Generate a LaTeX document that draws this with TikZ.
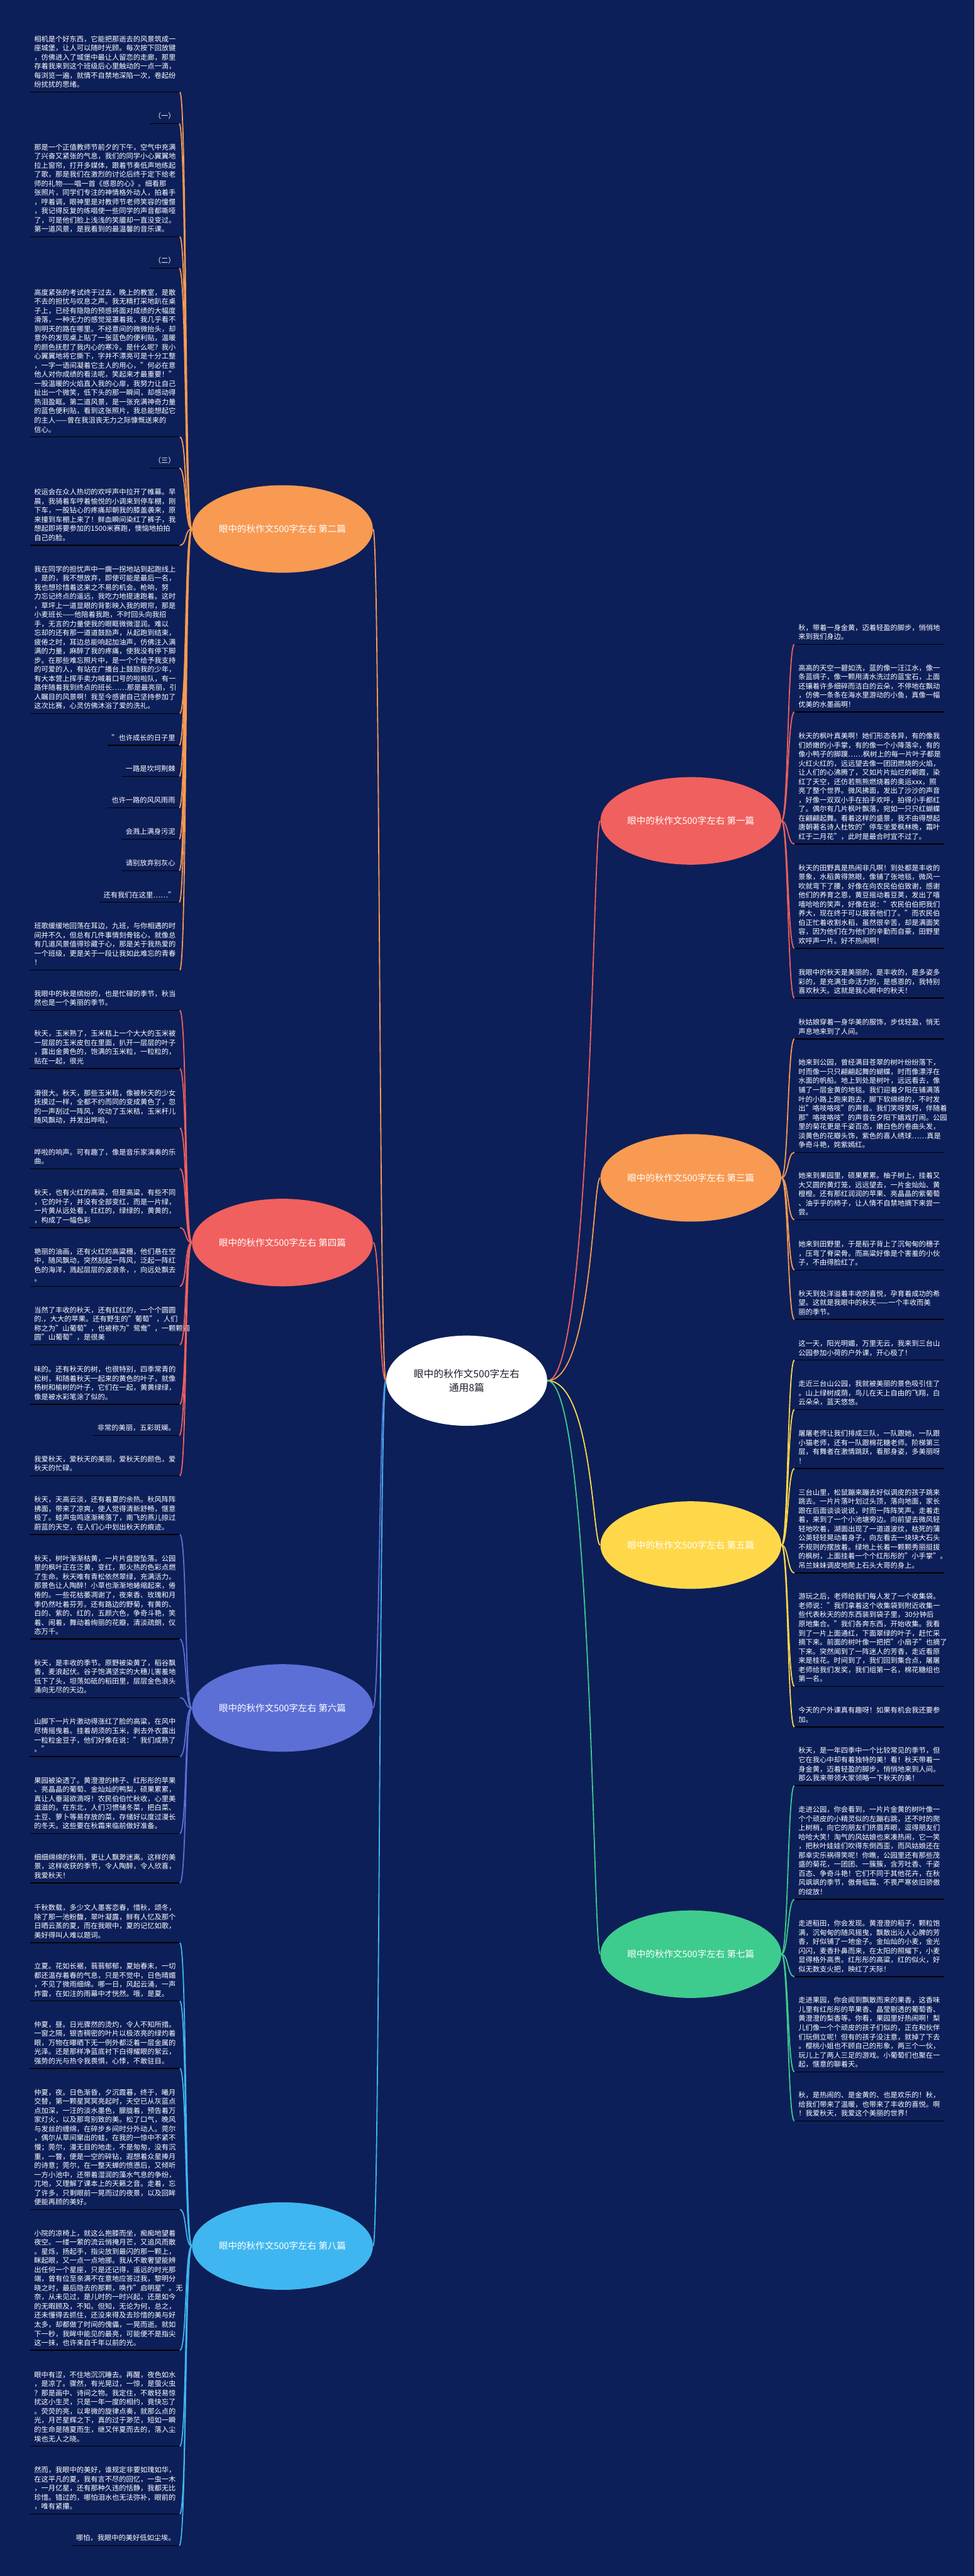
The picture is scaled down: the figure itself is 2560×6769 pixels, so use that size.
\documentclass[tikz,border=0pt]{standalone}
\usepackage{fontspec}
\setmainfont{Noto Sans CJK SC}
\usetikzlibrary{shapes.geometric}
\definecolor{bg}{HTML}{0D1F58}
\definecolor{cOrange}{HTML}{F89A52}
\definecolor{cRed}{HTML}{F0605E}
\definecolor{cBlue}{HTML}{5C6FD6}
\definecolor{cSky}{HTML}{3FB6F0}
\definecolor{cYellow}{HTML}{FFD84A}
\definecolor{cGreen}{HTML}{3ECB8E}
\definecolor{hubtext}{HTML}{1C1C2C}
\newcommand\leaffont{\fontsize{5.58pt}{7.2pt}\selectfont}
\newcommand\lstrut{\rule[-1.2pt]{0pt}{1pt}}
\begin{document}
\begin{tikzpicture}[x=0.3pt,y=-0.3pt,
  leafl/.style={anchor=south west,text width=111.6pt,align=left,inner xsep=3pt,inner ysep=2.4pt,font=\leaffont,text=white,execute at end node=\lstrut},
  leafs/.style={anchor=south east,align=right,inner xsep=3pt,inner ysep=2.4pt,font=\leaffont,text=white,execute at end node=\lstrut},
  branch/.style={ellipse,minimum width=142.5pt,minimum height=69pt,inner sep=0pt,text=white,font=\fontsize{7.2pt}{8.6pt}\selectfont},
  hubnode/.style={ellipse,fill=white,minimum width=126.9pt,minimum height=71.1pt,inner sep=0pt,text=hubtext,align=center,font=\fontsize{7.8pt}{11pt}\selectfont},
  conn/.style={line width=0.9pt},
  uline/.style={line width=0.75pt,black}]
\fill[bg] (0,0) rectangle (2560,6769);
\useasboundingbox (0,0) rectangle (2560,6769);

% hub and branches
\node[hubnode] (C) at (1226,3628) {眼中的秋作文500字左右\\通用8篇};
\node[branch,fill=cRed] (N1) at (1815,2157) {眼中的秋作文500字左右 第一篇};
\node[branch,fill=cOrange] (N2) at (742,1390) {眼中的秋作文500字左右 第二篇};
\node[branch,fill=cOrange] (N3) at (1815,3095) {眼中的秋作文500字左右 第三篇};
\node[branch,fill=cRed] (N4) at (742,3265) {眼中的秋作文500字左右 第四篇};
\node[branch,fill=cYellow] (N5) at (1815,4060) {眼中的秋作文500字左右 第五篇};
\node[branch,fill=cBlue] (N6) at (742,4488) {眼中的秋作文500字左右 第六篇};
\node[branch,fill=cGreen] (N7) at (1815,5135) {眼中的秋作文500字左右 第七篇};
\node[branch,fill=cSky] (N8) at (742,5902) {眼中的秋作文500字左右 第八篇};

% ---------- left: 第二篇 ----------
\node[leafl] (A1) at (79,242) {相机是个好东西，它能把那逝去的风景筑成一\\座城堡，让人可以随时光顾。每次按下回放键\\，仿佛进入了城堡中最让人留恋的走廊，那里\\存着我来到这个班级后心里触动的一点一滴，\\每浏览一遍，就情不自禁地深陷一次，卷起纷\\纷扰扰的思绪。};
\node[leafs] (A2) at (471,325) {（一）};
\node[leafl] (A3) at (79,622) {那是一个正值教师节前夕的下午，空气中充满\\了兴奋又紧张的气息，我们的同学小心翼翼地\\拉上窗帘，打开多媒体，跟着节奏低声地练起\\了歌，那是我们在激烈的讨论后终于定下给老\\师的礼物——唱一首《感恩的心》。细看那\\张照片，同学们专注的神情格外动人，拍着手\\，哼着调，眼神里是对教师节老师笑容的憧憬\\，我记得反复的练唱使一些同学的声音都嘶哑\\了，可是他们脸上浅浅的笑靥却一直没变过。\\第一道风景，是我看到的最温馨的音乐课。};
\node[leafs] (A4) at (471,705) {（二）};
\node[leafl] (A5) at (79,1148) {高度紧张的考试终于过去，晚上的教室，是散\\不去的担忧与叹息之声。我无精打采地趴在桌\\子上，已经有隐隐的预感将面对成绩的大幅度\\滑落，一种无力的感觉笼罩着我，我几乎看不\\到明天的路在哪里。不经意间的微微抬头，却\\意外的发现桌上贴了一张蓝色的便利贴，温暖\\的颜色抚慰了我内心的寒冷。是什么呢？我小\\心翼翼地将它撕下，字并不漂亮可是十分工整\\，一字一语间凝着它主人的用心，"何必在意\\他人对你成绩的看法呢，笑起来才最重要！"\\一股温暖的火焰直入我的心扉，我努力让自己\\扯出一个微笑，低下头的那一瞬间，却感动得\\热泪盈眶。第二道风景，是一张充满神奇力量\\的蓝色便利贴，看到这张照片，我总能想起它\\的主人——曾在我沮丧无力之际慷慨送来的\\信心。};
\node[leafs] (A6) at (471,1230) {（三）};
\node[leafl] (A7) at (79,1433) {校运会在众人热切的欢呼声中拉开了帷幕。早\\晨，我骑着车哼着愉悦的小调来到停车棚，刚\\下车，一股钻心的疼痛却朝我的膝盖袭来，原\\来撞到车棚上来了！鲜血瞬间染红了裤子，我\\想起即将要参加的1500米赛跑，懊恼地拍拍\\自己的脸。};
\node[leafl] (A8) at (79,1875) {我在同学的担忧声中一瘸一拐地站到起跑线上\\，是的，我不想放弃，即使可能是最后一名，\\我也想珍惜着这来之不易的机会。枪响，努\\力忘记终点的遥远，我吃力地提速跑着。这时\\，草坪上一道显眼的背影映入我的眼帘，那是\\小麦班长——他陪着我跑，不时回头向我招\\手，无言的力量使我的眼眶微微湿润。难以\\忘却的还有那一道道鼓励声，从起跑到结束，\\疲倦之时，耳边总能响起加油声，仿佛注入满\\满的力量，麻醉了我的疼痛，使我没有停下脚\\步。在那些难忘照片中，是一个个给予我支持\\的可爱的人，有站在广播台上鼓励我的少年，\\有大本营上挥手卖力喊着口号的啦啦队，有一\\路伴随着我到终点的班长……那是最亮丽，引\\人瞩目的风景啊！我至今感谢自己坚持参加了\\这次比赛，心灵仿佛沐浴了爱的洗礼。};
\node[leafs] (A9) at (471,1958) {"也许成长的日子里};
\node[leafs] (A10) at (471,2040) {一路是坎坷荆棘};
\node[leafs] (A11) at (471,2123) {也许一路的风风雨雨};
\node[leafs] (A12) at (471,2205) {会溅上满身污泥};
\node[leafs] (A13) at (471,2288) {请别放弃别灰心};
\node[leafs] (A14) at (471,2371) {还有我们在这里……"};
\node[leafl] (A15) at (79,2549) {班歌缓缓地回荡在耳边，九班，与你相遇的时\\间并不久，但总有几件事情刻骨铭心，就像总\\有几道风景值得珍藏于心，那是关于我热爱的\\一个班级，更是关于一段让我如此难忘的青春\\！};

% ---------- left: 第四篇 ----------
\node[leafl] (B1) at (79,2655) {我眼中的秋是缤纷的，也是忙碌的季节，秋当\\然也是一个美丽的季节。};
\node[leafl] (B2) at (79,2808) {秋天，玉米熟了，玉米秸上一个大大的玉米被\\一层层的玉米皮包在里面，扒开一层层的叶子\\，露出金黄色的，饱满的玉米粒，一粒粒的，\\贴在一起，很光};
\node[leafl] (B3) at (79,2964) {滑很大。秋天，那些玉米秸，像被秋天的少女\\抚摸过一样，全都不约而同的变成黄色了，忽\\的一声刮过一阵风，吹动了玉米秸，玉米杆儿\\随风飘动，并发出哗啦，};
\node[leafl] (B4) at (79,3071) {哗啦的响声。可有趣了，像是音乐家演奏的乐\\曲。};
\node[leafl] (B5) at (79,3226) {秋天，也有火红的高粱，但是高粱，有些不同\\，它的叶子，并没有全部变红，而是一片绿，\\一片黄从远处看，红红的，绿绿的，黄黄的，\\，构成了一幅色彩};
\node[leafl] (B6) at (79,3380) {艳丽的油画，还有火红的高粱穗，他们悬在空\\中，随风飘动，突然刮起一阵风，泛起一阵红\\色的海洋，溅起层层的波浪条，，向远处飘去\\。};
\node[leafl] (B7) at (79,3534) {当然了丰收的秋天，还有红红的，一个个圆圆\\的.，大大的苹果。还有野生的"葡萄"，人们\\称之为"山葡萄"，也被称为"鸳鸯"，一颗颗圆\\圆"山葡萄"，是很美};
\node[leafl] (B8) at (79,3690) {味的。还有秋天的树，也很特别，四季常青的\\松树，和随着秋天一起来的黄色的叶子，就像\\杨树和榆树的叶子，它们在一起，黄黄绿绿，\\像是被水彩笔涂了似的。};
\node[leafs] (B9) at (471,3772) {非常的美丽，五彩斑斓。};
\node[leafl] (B10) at (79,3878) {我爱秋天，爱秋天的美丽，爱秋天的颜色，爱\\秋天的忙碌。};

% ---------- left: 第六篇 ----------
\node[leafl] (C1) at (79,4032) {秋天，天高云淡，还有着夏的余热。秋风阵阵\\拂面，带来了凉爽，使人觉得清新舒畅，惬意\\极了。蛙声虫鸣逐渐稀落了，南飞的燕儿掠过\\蔚蓝的天空，在人们心中划出秋天的痕迹。};
\node[leafl] (C2) at (79,4307) {秋天，树叶渐渐枯黄，一片片盘旋坠落。公园\\里的枫叶正在泛黄，变红，那火热的色彩点燃\\了生命。秋天唯有青松依然翠绿，充满活力。\\那景色让人陶醉！小草也渐渐地蜷缩起来，倦\\倦的。一些花枯萎凋谢了，夜来香、玫瑰和月\\季仍然吐着芬芳。还有路边的野菊，有黄的、\\白的、紫的、红的，五颜六色，争奇斗艳，笑\\着、闹着，舞动着绚丽的花瓣，清淡疏朗，仪\\态万千。};
\node[leafl] (C3) at (79,4461) {秋天，是丰收的季节。原野被染黄了，稻谷飘\\香，麦浪起伏。谷子饱满坚实的大穗儿害羞地\\低下了头，坦荡如砥的稻田里，层层金色浪头\\涌向无尽的天边。};
\node[leafl] (C4) at (79,4616) {山脚下一片片激动得涨红了脸的高粱，在风中\\尽情摇曳着。挂着胡须的玉米，剥去外衣露出\\一粒粒金豆子，他们好像在说："我们成熟了\\。"};
\node[leafl] (C5) at (79,4818) {果园被染透了。黄澄澄的柿子、红彤彤的苹果\\、亮晶晶的葡萄、金灿灿的鸭梨，硕果累累，\\真让人垂涎欲滴呀！农民伯伯忙秋收，心里美\\滋滋的。在东北，人们习惯储冬菜，把白菜、\\土豆、萝卜等易存放的菜，存储好以度过漫长\\的冬天。这些要在秋霜来临前做好准备。};
\node[leafl] (C6) at (79,4948) {细细绵绵的秋雨，更让人飘渺迷离。这样的美\\景，这样收获的季节，令人陶醉，令人欣喜，\\我爱秋天！};

% ---------- left: 第八篇 ----------
\node[leafl] (D1) at (79,5105) {千秋数载，多少文人墨客恋春，惜秋，颂冬，\\除了那一池粉馥，翠叶凝露，鲜有人忆及那个\\日晒云蒸的夏，而在我眼中，夏的记忆如歌，\\美好得叫人难以题词。};
\node[leafl] (D2) at (79,5258) {立夏。花如长裾，蓊蓊郁郁，夏始春末，一切\\都还温存着春的气息，只是不觉中，日色晴媚\\，不见了微雨细绵。哪一日，风起云涌，一声\\炸雷，在如注的雨幕中才恍然。哦，是夏。};
\node[leafl] (D3) at (79,5435) {仲夏，昼。日光骤然的烫灼，令人不知所措。\\一窗之隔，银杏稠密的叶片以极浓亮的绿灼着\\眼，万物在曝晒下无一例外都泛着一层金属的\\光泽。还是那样净蓝底衬下白得耀眼的絮云，\\强势的光与热令我畏惧，心悸，不敢驻目。};
\node[leafl] (D4) at (79,5806) {仲夏，夜。日色渐昏，夕沉霞暮，终于，曦月\\交替，第一颗星冥冥亮起时，天空已从灰蓝点\\点加深，一汪的淡水墨色，朦胧着，预告着万\\家灯火，以及那弯别致的美。松了口气，晚风\\与发丝的缠绵，在碎步乡间时分外动人。莞尔\\，偶尔从草间窜出的蛙，在我的一惊中不紧不\\慢；莞尔，漫无目的地走，不是匆匆，没有沉\\重，一瞥，便是一空的碎钻，遐想着众星捧月\\的诗意；莞尔，在一整天蝉的愤懑后，又倾听\\一方小池中，还带着湿润的藻水气息的争纷，\\兀地，又理解了课本上的天籁之音。走着，忘\\了许多，只剩眼前一晃而过的夜景，以及回眸\\便能再顾的美好。};
\node[leafl] (D5) at (79,6176) {小院的凉椅上，就这么抱膝而坐，痴痴地望着\\夜空。一缕一萦的流云悄掩月芒，又追风而散\\。星烁，扬起手，指尖放到最闪的那一颗上，\\眯起眼，又一点一点地挪。我从不敢奢望能辨\\出任何一个星座，只是还记得，遥远的时光那\\端，曾有位至亲满不在意地应答过我，黎明分\\晓之时，最后隐去的那颗，唤作"启明星"。无\\奈，从未见过，是儿时的一时兴起，还是如今\\的无暇顾及，不知。但知，无论为何，总之，\\还未懂得去抓住，还没来得及去珍惜的美与好\\太多，却都做了时间的傀儡，一晃而逝。就如\\下一秒，我眸中能见的最亮，可能便不是指尖\\这一抹，也许来自千年以前的光。};
\node[leafl] (D6) at (79,6428) {眼中有涩，不住地沉沉睡去。再醒，夜色如水\\，是凉了。骤然，有光晃过，一惊，是萤火虫\\？那是画中、诗间之物。我定住，不敢轻易惊\\扰这小生灵，只是一年一度的相约，竟快忘了\\。荧荧的亮，以卑微的旋律点奏，就那么点的\\光，月芒星辉之下，真的过于渺茫，短如一瞬\\的生命是随夏而生，继又伴夏而去的，落入尘\\埃也无人之晓。};
\node[leafl] (D7) at (79,6606) {然而，我眼中的美好，谁规定非要如瑰如华，\\在这平凡的夏，我有言不尽的回忆，一虫一木\\，一月亿星，还有那种久违的恬静，我都无比\\珍惜。错过的，哪怕泪水也无法弥补，眼前的\\，唯有紧攥。};
\node[leafs] (D8) at (471,6689) {哪怕，我眼中的美好低如尘埃。};

% ---------- right: 第一篇 ----------
\node[leafl] (E1) at (2087,1693) {秋，带着一身金黄，迈着轻盈的脚步，悄悄地\\来到我们身边。};
\node[leafl] (E2) at (2087,1871) {高高的天空一碧如洗，蓝的像一汪江水，像一\\条蓝绸子，像一颗用清水洗过的蓝宝石，上面\\还镶着许多细碎而洁白的云朵，不停地在飘动\\，仿佛一条条在海水里游动的小鱼，真像一幅\\优美的水墨画啊！};
\node[leafl] (E3) at (2087,2218) {秋天的枫叶真美啊！她们形态各异，有的像我\\们娇嫩的小手掌，有的像一个小降落伞，有的\\像小鸭子的脚蹼……枫树上的每一片叶子都是\\火红火红的，远远望去像一团团燃烧的火焰，\\让人们的心沸腾了，又如片片灿烂的朝霞，染\\红了天空，还仿若熊熊燃烧着的奥运xxx，照\\亮了整个世界。微风拂面，发出了沙沙的声音\\，好像一双双小手在拍手欢呼，拍得小手都红\\了。偶尔有几片枫叶飘落，宛如一只只红蝴蝶\\在翩翩起舞。看着这样的盛景，我不由得想起\\唐朝著名诗人杜牧的"停车坐爱枫林晚，霜叶\\红于二月花"，此时是最合时宜不过了。};
\node[leafl] (E4) at (2087,2492) {秋天的田野真是热闹非凡啊！到处都是丰收的\\景象，水稻黄得煞眼，像铺了张地毯，微风一\\吹就弯下了腰，好像在向农民伯伯致谢，感谢\\他们的养育之恩，黄豆摇动着豆荚，发出了嘻\\嘻哈哈的笑声，好像在说："农民伯伯把我们\\养大，现在终于可以报答他们了。"而农民伯\\伯正忙着收割水稻，虽然很辛苦，却是满面笑\\容，因为他们在为他们的辛勤而自豪，田野里\\欢呼声一片。好不热闹啊！};
\node[leafl] (E5) at (2087,2623) {我眼中的秋天是美丽的，是丰收的，是多姿多\\彩的，是充满生命活力的，是感恩的，我特别\\喜欢秋天。这就是我心眼中的秋天！};

% ---------- right: 第三篇 ----------
\node[leafl] (F1) at (2087,2730) {秋姑娘穿着一身华美的服饰，步伐轻盈，悄无\\声息地来到了人间。};
\node[leafl] (F2) at (2087,3028) {她来到公园，曾经满目苍翠的树叶纷纷落下，\\时而像一只只翩翩起舞的蝴蝶，时而像漂浮在\\水面的帆船。地上到处是树叶，远远看去，像\\铺了一层金黄的地毯。我们迎着夕阳在铺满落\\叶的小路上跑来跑去，脚下软绵绵的，不时发\\出"咯吱咯吱"的声音。我们笑呀笑呀，伴随着\\那"咯吱咯吱"的声音在夕阳下嬉戏打闹。公园\\里的菊花更是千姿百态，嫩白色的卷曲头发，\\淡黄色的花瓣头饰，紫色的喜人绣球……真是\\争奇斗艳，姹紫嫣红。};
\node[leafl] (F3) at (2087,3205) {她来到果园里，硕果累累。柚子树上，挂着又\\大又圆的黄灯笼，远远望去，一片金灿灿、黄\\橙橙。还有那红润润的苹果、亮晶晶的紫葡萄\\、油乎乎的柿子，让人情不自禁地摘下来尝一\\尝。};
\node[leafl] (F4) at (2087,3337) {她来到田野里，于是稻子背上了沉甸甸的穗子\\，压弯了脊梁骨。而高粱好像是个害羞的小伙\\子，不由得脸红了。};
\node[leafl] (F5) at (2087,3467) {秋天到处洋溢着丰收的喜悦，孕育着成功的希\\望。这就是我眼中的秋天——一个丰收而美\\丽的季节。};

% ---------- right: 第五篇 ----------
\node[leafl] (G1) at (2087,3574) {这一天，阳光明媚，万里无云，我来到三台山\\公园参加小荷的户外课，开心极了！};
\node[leafl] (G2) at (2087,3704) {走近三台山公园，我就被美丽的景色吸引住了\\。山上绿树成荫，鸟儿在天上自由的飞翔，白\\云朵朵，蓝天悠悠。};
\node[leafl] (G3) at (2087,3859) {屠屠老师让我们排成三队，一队跟她，一队跟\\小猫老师，还有一队跟棉花糖老师。阶梯第三\\层，有舞者在激情跳跃，看那身姿，多美丽呀\\！};
\node[leafl] (G4) at (2087,4133) {三台山里，松鼠蹦来蹦去好似调皮的孩子跳来\\跳去。一片片落叶划过头顶，落向地面，家长\\跟在后面谈谈说说，时而一阵阵笑声。走着走\\着，来到了一个小池塘旁边。向前望去微风轻\\轻地吹着，湖面出现了一道道波纹，枯死的蒲\\公英轻轻晃动着身子，向左看去一块块大石头\\不规则的摆放着。绿地上长着一颗颗秀丽挺拔\\的枫树，上面挂着一个个红彤彤的"小手掌"。\\吊兰妹妹调皮地爬上石头大哥的身上。};
\node[leafl] (G5) at (2087,4431) {游玩之后，老师给我们每人发了一个收集袋。\\老师说："我们拿着这个收集袋到附近收集一\\些代表秋天的的东西装到袋子里，30分钟后\\原地集合。"我们各奔东西，开始收集。我看\\到了一片上面通红，下面翠绿的叶子，赶忙采\\摘下来。前面的树叶像一把把"小扇子"也摘了\\下来。突然闻到了一阵迷人的芳香，走近看原\\来是桂花。时间到了，我们回到集合点，屠屠\\老师给我们发奖，我们组第一名，棉花糖组也\\第一名。};
\node[leafl] (G6) at (2087,4538) {今天的户外课真有趣呀！如果有机会我还要参\\加。};

% ---------- right: 第七篇 ----------
\node[leafl] (H1) at (2087,4692) {秋天，是一年四季中一个比较常见的季节，但\\它在我心中却有着独特的美！看！秋天带着一\\身金黄，迈着轻盈的脚步，悄悄地来到人间。\\那么我来带领大家领略一下秋天的美！};
\node[leafl] (H2) at (2087,4991) {走进公园，你会看到，一片片金黄的树叶像一\\个个顽皮的小精灵似的左蹦右跳，还不时的爬\\上树梢，向它的朋友们挤眉弄眼，逗得朋友们\\哈哈大笑！淘气的风姑娘也来凑热闹，它一笑\\，把秋叶娃娃们吹得东倒西歪，而风姑娘还在\\那幸灾乐祸得笑呢！你瞧，公园里还有那些茂\\盛的菊花，一团团、一簇簇，含芳吐香、千姿\\百态、争奇斗艳！它们不同于其他花卉，在秋\\风飒飒的季节，傲骨临霜、不畏严寒依旧骄傲\\的绽放！};
\node[leafl] (H3) at (2087,5194) {走进稻田，你会发现。黄澄澄的稻子，颗粒饱\\满，沉甸甸的随风摇曳，飘散出沁人心脾的芳\\香，好似铺了一地金子。金灿灿的小麦，金光\\闪闪，麦香扑鼻而来，在太阳的照耀下，小麦\\显得格外高贵。红彤彤的高粱，红的似火，好\\似无数支火把，映红了天际！};
\node[leafl] (H4) at (2087,5444) {走进果园，你会闻到飘散而来的果香，这香味\\儿里有红彤彤的苹果香、晶莹剔透的葡萄香、\\黄澄澄的梨香等。你看，果园里好热闹啊！梨\\儿们像一个个顽皮的孩子们似的，正在和伙伴\\们玩倒立呢！但有的孩子没注意，就掉了下去\\。樱桃小姐也不顾自己的形象，两三个一伙，\\玩儿上了两人三足的游戏。小葡萄们也聚在一\\起，惬意的聊着天。};
\node[leafl] (H5) at (2087,5573) {秋，是热闹的、是金黄的、也是欢乐的！秋，\\给我们带来了温暖，也带来了丰收的喜悦。啊\\！我爱秋天，我爱这个美丽的世界！};

% ---------- underlines ----------
\foreach \n in {A1,A2,A3,A4,A5,A6,A7,A8,A9,A10,A11,A12,A13,A14,A15,B1,B2,B3,B4,B5,B6,B7,B8,B9,B10,C1,C2,C3,C4,C5,C6,D1,D2,D3,D4,D5,D6,D7,D8,E1,E2,E3,E4,E5,F1,F2,F3,F4,F5,G1,G2,G3,G4,G5,G6,H1,H2,H3,H4,H5}
  \draw[uline] (\n.south west) -- (\n.south east);

% ---------- connectors: branches to leaves ----------
\foreach \n in {A1,A2,A3,A4,A5,A6,A7,A8,A9,A10,A11,A12,A13,A14,A15}
  \draw[conn,cOrange] (N2.west) .. controls +(-19,0) and +(19,0) .. (\n.south east);
\foreach \n in {B1,B2,B3,B4,B5,B6,B7,B8,B9,B10}
  \draw[conn,cRed] (N4.west) .. controls +(-19,0) and +(19,0) .. (\n.south east);
\foreach \n in {C1,C2,C3,C4,C5,C6}
  \draw[conn,cBlue] (N6.west) .. controls +(-19,0) and +(19,0) .. (\n.south east);
\foreach \n in {D1,D2,D3,D4,D5,D6,D7,D8}
  \draw[conn,cSky] (N8.west) .. controls +(-19,0) and +(19,0) .. (\n.south east);
\foreach \n in {E1,E2,E3,E4,E5}
  \draw[conn,cRed] (N1.east) .. controls +(18,0) and +(-18,0) .. (\n.south west);
\foreach \n in {F1,F2,F3,F4,F5}
  \draw[conn,cOrange] (N3.east) .. controls +(18,0) and +(-18,0) .. (\n.south west);
\foreach \n in {G1,G2,G3,G4,G5,G6}
  \draw[conn,cYellow] (N5.east) .. controls +(18,0) and +(-18,0) .. (\n.south west);
\foreach \n in {H1,H2,H3,H4,H5}
  \draw[conn,cGreen] (N7.east) .. controls +(18,0) and +(-18,0) .. (\n.south west);

% ---------- connectors: hub to branches ----------
\draw[conn,cOrange] (C.west) .. controls +(-18,0) and +(18,0) .. (N2.east);
\draw[conn,cRed] (C.west) .. controls +(-18,0) and +(18,0) .. (N4.east);
\draw[conn,cBlue] (C.west) .. controls +(-18,0) and +(18,0) .. (N6.east);
\draw[conn,cSky] (C.west) .. controls +(-18,0) and +(18,0) .. (N8.east);
\draw[conn,cRed] (C.east) .. controls +(118,0) and +(-20,0) .. (N1.west);
\draw[conn,cOrange] (C.east) .. controls +(118,0) and +(-20,0) .. (N3.west);
\draw[conn,cYellow] (C.east) .. controls +(118,0) and +(-20,0) .. (N5.west);
\draw[conn,cGreen] (C.east) .. controls +(118,0) and +(-20,0) .. (N7.west);
\end{tikzpicture}
\end{document}
